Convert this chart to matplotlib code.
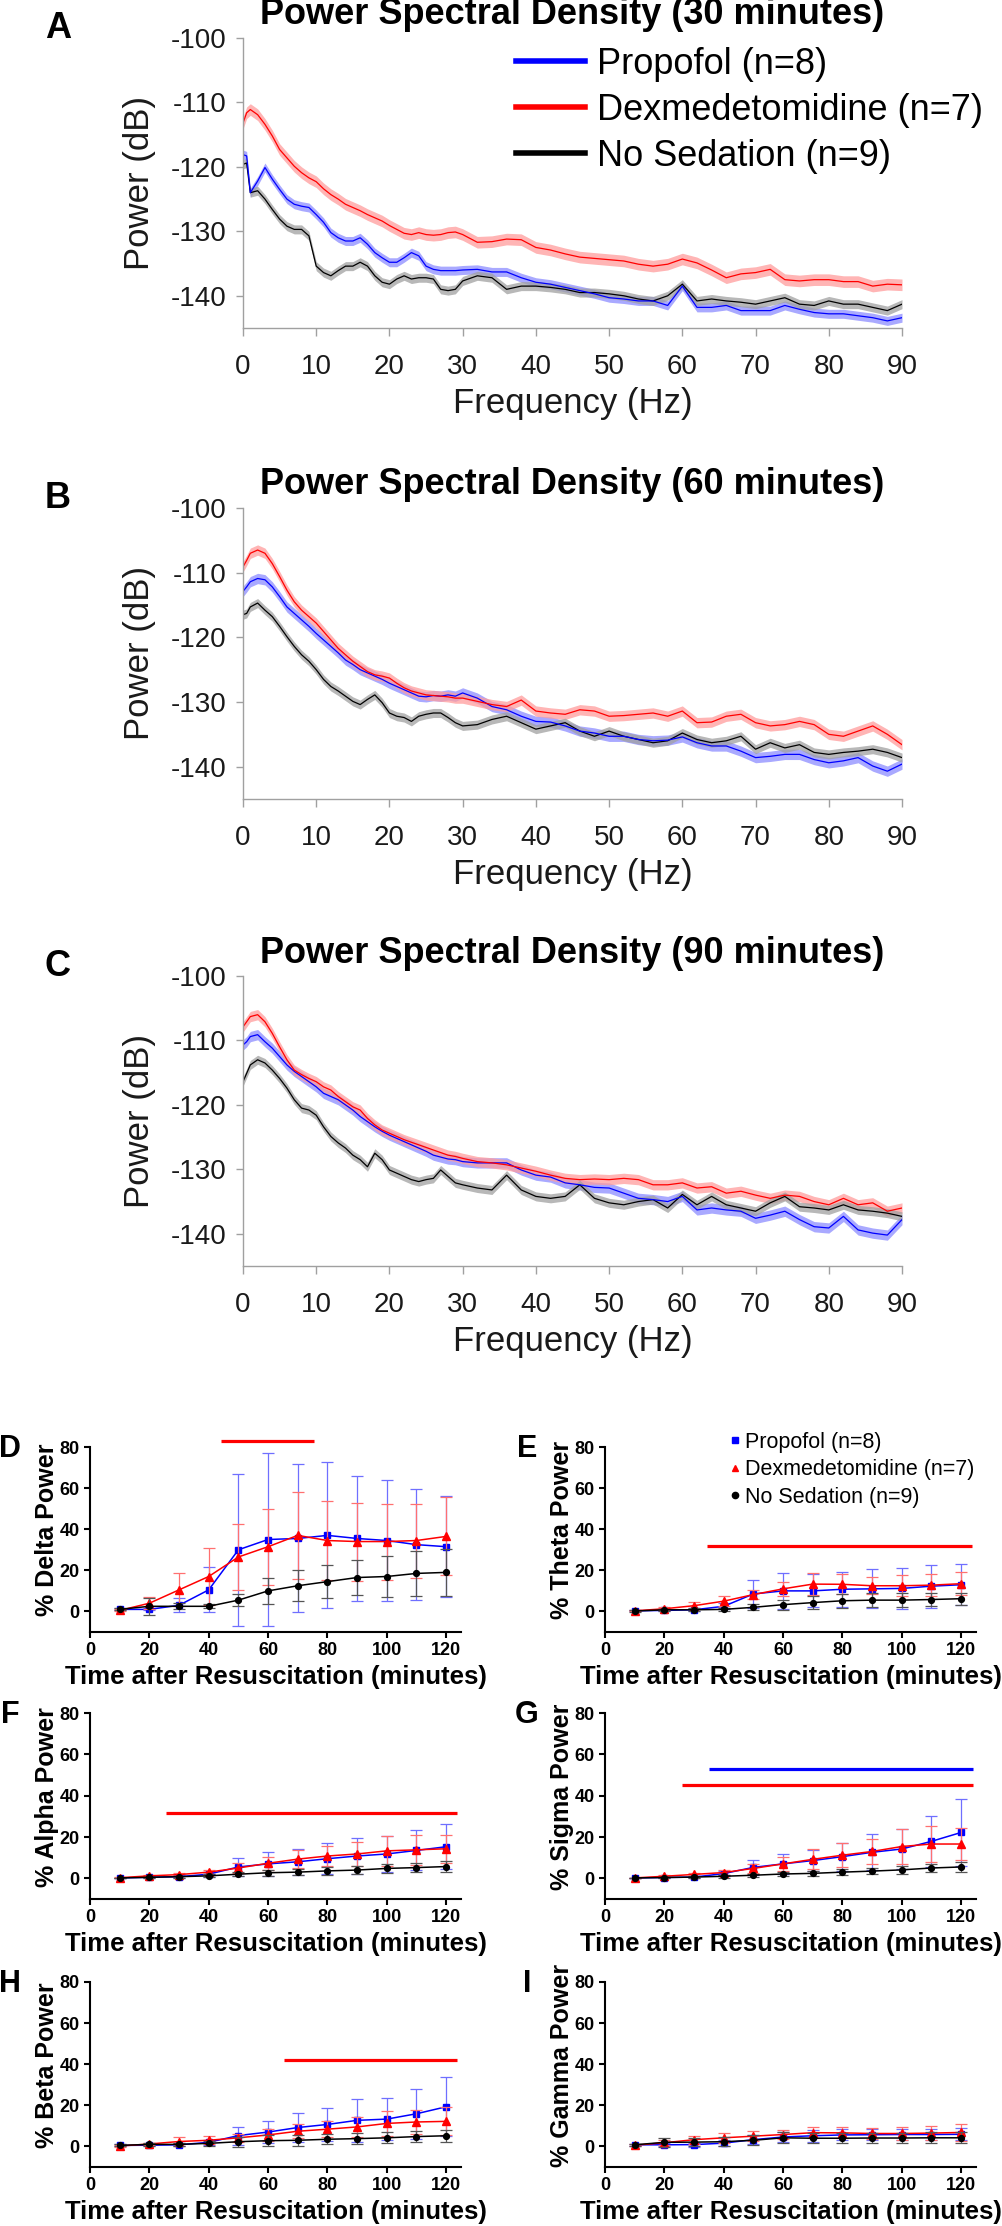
#!/usr/bin/env python3
"""PSD (A-C) + relative band power time course (D-I)."""
import matplotlib

matplotlib.use("Agg")
import matplotlib.pyplot as plt
from matplotlib.lines import Line2D
import numpy as np

plt.rcParams["font.family"] = ["Liberation Sans", "DejaVu Sans"]
plt.rcParams["axes.unicode_minus"] = False

W, H = 1003, 2226  # output pixels (dpi=100)

# ---------------- PSD data (dB) ----------------
FREQ = [0, 0.5, 1, 2, 3, 4, 5, 6, 7, 8, 9, 10, 11, 12, 13, 14, 15, 16, 17, 18,
        19, 20, 21, 22, 23, 24, 25, 26, 27, 28, 29, 30,
        32, 34, 36, 38, 40, 42, 44, 46, 48, 50, 52, 54, 56, 58, 60,
        62, 64, 66, 68, 70, 72, 74, 76, 78, 80, 82, 84, 86, 88, 90]

PSD30_DEX = [-113.2, -111.6, -111.1, -111.9, -113.4, -115.2, -117.3, -118.6, -119.9, -120.9,
             -121.7, -122.3, -123.4, -124.3, -125.0, -125.8, -126.3, -126.8, -127.4, -127.9,
             -128.4, -129.1, -129.7, -130.3, -130.5, -130.2, -130.5, -130.6, -130.5, -130.2,
             -130.1, -130.5,
             -131.7, -131.6, -131.2, -131.3, -132.5, -132.9, -133.5, -134.0, -134.2, -134.4,
             -134.6, -135.1, -135.4, -135.1, -134.3, -134.9, -136.0, -137.2, -136.6, -136.4,
             -135.9, -137.5, -137.7, -137.5, -137.5, -137.8, -137.8, -138.5, -138.2, -138.3]
PSD30_PROP = [-118.1, -118.3, -124.0, -122.2, -120.1, -121.9, -123.5, -125.0, -125.8, -126.1,
              -126.3, -127.4, -128.6, -130.2, -131.0, -131.5, -131.5, -131.0, -132.0, -133.3,
              -134.1, -134.8, -134.8, -134.1, -133.3, -133.8, -135.4, -135.9, -136.1, -136.1,
              -136.1, -136.0,
              -135.9, -136.3, -136.3, -137.2, -137.9, -138.2, -138.7, -139.2, -139.7, -140.3,
              -140.5, -140.8, -140.8, -141.5, -138.5, -141.8, -141.8, -141.5, -142.3, -142.3,
              -142.3, -141.5, -142.1, -142.6, -142.8, -142.8, -143.1, -143.4, -143.9, -143.4]
PSD30_NOSED = [-119.6, -119.4, -124.0, -123.7, -125.0, -126.6, -128.1, -129.2, -129.7, -129.7,
               -130.7, -135.4, -136.4, -136.9, -136.1, -135.4, -135.4, -134.8, -135.4, -136.9,
               -137.9, -138.2, -137.4, -136.9, -137.4, -137.2, -137.2, -137.4, -139.0, -139.2,
               -139.0, -137.7,
               -136.9, -137.2, -139.0, -138.5, -138.5, -138.7, -139.0, -139.5, -139.5, -139.7,
               -140.0, -140.5, -140.8, -140.0, -138.2, -140.8, -140.5, -140.8, -141.0, -141.3,
               -140.8, -140.3, -141.3, -141.5, -140.8, -141.3, -141.3, -141.8, -142.3, -141.3]

PSD60_DEX = [-109.1, -108.1, -107.0, -106.5, -107.0, -108.6, -110.6, -112.7, -114.5, -115.8,
             -116.8, -117.8, -119.1, -120.4, -121.7, -122.7, -123.7, -124.5, -125.3, -125.8,
             -126.0, -126.3, -127.1, -127.8, -128.3, -128.6, -128.9, -129.0, -129.1, -129.2,
             -129.4, -129.4,
             -129.9, -130.4, -130.7, -129.7, -131.4, -131.7, -131.9, -131.2, -131.4, -132.2,
             -132.1, -131.9, -131.7, -132.2, -131.4, -133.2, -133.1, -132.2, -131.9, -133.2,
             -133.7, -133.5, -133.0, -133.5, -135.0, -135.3, -134.5, -133.7, -135.0, -136.6]
PSD60_PROP = [-112.9, -112.2, -111.4, -110.9, -111.1, -112.2, -113.7, -115.3, -116.3, -117.3,
              -118.3, -119.4, -120.4, -121.4, -122.4, -123.5, -124.2, -125.0, -125.5, -126.0,
              -126.5, -127.1, -127.6, -128.1, -128.6, -129.1, -129.2, -129.0, -129.1, -128.9,
              -129.1, -128.6,
              -129.4, -130.7, -131.2, -132.2, -133.0, -133.1, -133.7, -134.5, -134.8, -135.3,
              -135.3, -135.8, -136.0, -135.9, -135.4, -136.3, -136.8, -136.8, -137.6, -138.6,
              -138.4, -138.1, -138.1, -138.9, -139.4, -139.1, -138.6, -139.9, -140.7, -139.6]
PSD60_NOSED = [-116.5, -116.3, -115.3, -114.7, -115.8, -116.8, -118.3, -119.9, -121.4, -122.7,
               -123.7, -125.0, -126.5, -127.6, -128.3, -129.1, -129.9, -130.4, -129.6, -128.9,
               -130.1, -131.7, -132.2, -132.4, -133.0, -132.2, -131.9, -131.7, -131.7, -132.4,
               -133.2, -133.7,
               -133.5, -132.7, -132.2, -133.2, -134.2, -133.7, -133.2, -134.5, -135.3, -134.5,
               -135.3, -135.8, -136.3, -136.0, -134.8, -135.8, -136.3, -136.0, -135.3, -137.3,
               -136.3, -137.1, -136.6, -137.8, -138.1, -137.8, -137.6, -137.3, -137.8, -138.6]

PSD90_DEX = [-107.9, -107.1, -106.3, -106.0, -107.1, -108.9, -111.0, -113.0, -114.6, -115.3,
             -115.9, -116.4, -117.2, -117.7, -118.7, -119.5, -120.3, -120.8, -122.1, -123.1,
             -123.9, -124.4, -124.9, -125.4, -125.8, -126.2, -126.6, -127.0, -127.4, -127.8,
             -128.0, -128.3,
             -128.8, -129.0, -129.3, -129.8, -130.3, -130.9, -131.4, -131.6, -131.5, -131.6,
             -131.4, -131.6, -132.4, -132.4, -132.1, -132.9, -132.7, -133.7, -133.4, -134.0,
             -134.5, -134.0, -134.2, -135.0, -135.5, -134.5, -135.5, -135.2, -136.5, -136.0]
PSD90_PROP = [-110.7, -110.2, -109.4, -109.1, -110.2, -111.2, -112.5, -113.8, -114.8, -115.6,
              -116.4, -117.2, -118.2, -118.7, -119.2, -120.0, -120.8, -121.8, -122.6, -123.4,
              -124.1, -124.7, -125.2, -125.7, -126.2, -126.7, -127.2, -127.8, -128.1, -128.4,
              -128.5, -128.8,
              -129.0, -129.0, -129.0, -130.1, -130.9, -131.2, -132.1, -132.4, -132.8, -132.9,
              -133.7, -134.5, -134.7, -135.0, -134.2, -136.3, -136.0, -136.3, -136.5, -137.6,
              -137.1, -136.5, -137.8, -138.9, -139.1, -137.3, -139.4, -139.9, -140.2, -137.8]
PSD90_NOSED = [-116.4, -115.1, -113.8, -113.0, -113.5, -114.6, -115.9, -117.4, -119.2, -120.5,
               -120.8, -121.6, -123.4, -124.9, -125.9, -126.7, -127.8, -128.5, -129.6, -127.5,
               -128.5, -130.1, -130.6, -131.1, -131.6, -131.9, -131.6, -131.4, -130.1, -131.1,
               -132.1, -132.4,
               -132.9, -133.2, -130.9, -133.2, -134.2, -134.5, -134.2, -132.4, -134.5, -135.2,
               -135.5, -135.0, -134.7, -136.0, -133.9, -135.5, -134.2, -135.5, -136.0, -136.5,
               -135.2, -134.2, -135.8, -136.0, -136.3, -135.5, -136.3, -136.5, -136.8, -137.3]

# SEM half-width of the shaded band (dB): prop, dex, nosed
PSD_SEM = {30: (0.7, 0.9, 0.7), 60: (0.8, 0.8, 0.7), 90: (0.8, 0.8, 0.7)}

# ---------------- relative band power (%), mean +/- SD ----------------
TIME = [10, 20, 30, 40, 50, 60, 70, 80, 90, 100, 110, 120]

DELTA_PROP = [1, 1, 3, 10.5, 30, 35, 35.5, 37, 35.5, 34.5, 32.5, 31.5]
DELTA_PROP_SD = [0.5, 0.5, 3.5, 11, 37, 42, 36, 35.5, 30.5, 29.5, 27, 24.5]
DELTA_DEX = [0.5, 4, 10.5, 17, 26.5, 31.5, 37, 34.5, 34, 34, 34.5, 36.5]
DELTA_DEX_SD = [0.5, 3, 8, 14, 16, 18.5, 21, 19, 19, 18.5, 18, 19]
DELTA_NOSED = [1, 2.5, 2.5, 2.5, 5.5, 10, 12.5, 14.5, 16.5, 17, 18.5, 19]
DELTA_NOSED_SD = [0.5, 4, 1.5, 1, 3, 6.5, 7.5, 8, 8.5, 10, 11, 11.5]

THETA_PROP = [0.3, 0.5, 0.8, 2.5, 8.5, 10, 10, 10.8, 11, 11.2, 12.3, 13]
THETA_PROP_SD = [0.3, 0.5, 0.8, 1.5, 7, 8.7, 8, 8.5, 9.5, 9.8, 10.4, 10]
THETA_DEX = [0.3, 1.3, 2.8, 5, 8.2, 11, 13.3, 13.2, 12.5, 12.5, 12.8, 13.5]
THETA_DEX_SD = [0.3, 0.8, 1.7, 2.3, 2, 3.5, 5.2, 4.8, 4.2, 5.2, 5.2, 5.5]
THETA_NOSED = [0.2, 0.8, 0.8, 1, 2, 3.3, 4.3, 5.2, 5.5, 5.5, 5.8, 6.2]
THETA_NOSED_SD = [0.3, 0.5, 0.7, 0.8, 1.5, 2.5, 3, 3.5, 3.5, 3.5, 3.2, 3]

ALPHA_PROP = [0.2, 0.5, 0.8, 2, 5.5, 7, 8, 9.5, 10.8, 11.8, 13.5, 15.3]
ALPHA_PROP_SD = [0.2, 0.5, 0.7, 1.2, 4.5, 5.7, 6.3, 7.5, 8.5, 8.8, 9.7, 10.9]
ALPHA_DEX = [0.3, 1.2, 1.8, 3, 5, 7.3, 9.3, 10.8, 11.8, 13.3, 13.8, 14.3]
ALPHA_DEX_SD = [0.3, 0.6, 0.8, 1, 2.5, 3.2, 4.2, 5, 5.7, 7.2, 7.2, 6.7]
ALPHA_NOSED = [0.2, 0.5, 0.8, 1.2, 2, 2.7, 3, 3.6, 4, 4.8, 5.2, 5.7]
ALPHA_NOSED_SD = [0.2, 0.3, 0.5, 0.7, 1, 1.4, 1.6, 1.8, 2, 2.2, 2.3, 2.5]

SIGMA_PROP = [0.2, 0.4, 0.6, 2.3, 5.3, 7, 8.6, 10.5, 12.6, 14.2, 17.9, 22.2]
SIGMA_PROP_SD = [0.2, 0.4, 0.6, 1.2, 3.7, 4.7, 5, 6.8, 8.7, 9.8, 12.3, 16]
SIGMA_DEX = [0.2, 1, 1.9, 2.8, 4.8, 7, 9.2, 11.2, 13, 15.4, 16.6, 16.6]
SIGMA_DEX_SD = [0.2, 0.5, 0.8, 1, 2, 3.5, 4.8, 5.8, 6.2, 8.6, 8.6, 7.7]
SIGMA_NOSED = [0.2, 0.4, 0.6, 1, 1.5, 2.1, 2.4, 3, 3.5, 4.1, 5, 5.5]
SIGMA_NOSED_SD = [0.2, 0.3, 0.4, 0.6, 0.8, 1, 1.2, 1.4, 1.6, 1.8, 2, 2.2]

BETA_PROP = [0.5, 0.6, 0.8, 2, 5.3, 7, 9.2, 10.7, 12.7, 13.3, 15.9, 19.3]
BETA_PROP_SD = [0.5, 0.5, 0.8, 1.2, 4.4, 5.2, 7, 8.2, 10.6, 10.4, 12.2, 14.4]
BETA_DEX = [0.2, 1.2, 2.4, 3, 4.2, 5.6, 7.4, 8.4, 9.5, 11.2, 11.9, 12.2]
BETA_DEX_SD = [0.3, 0.6, 2, 1.9, 2, 3, 3.5, 4, 5, 6, 6, 6.8]
BETA_NOSED = [0.5, 1, 1, 1.5, 2.3, 2.8, 3, 3.5, 3.8, 4.2, 4.8, 5.2]
BETA_NOSED_SD = [0.5, 0.6, 0.8, 1.2, 2.5, 2.8, 2.6, 2.5, 2.6, 2.7, 2.8, 3]

GAMMA_PROP = [0.8, 0.8, 0.9, 1.6, 3.3, 4.6, 5.2, 5.6, 5.7, 5.8, 5.8, 5.9]
GAMMA_PROP_SD = [0.5, 0.8, 1, 1.5, 2.2, 2.5, 2.8, 2.7, 2.8, 2.8, 2.9, 3]
GAMMA_DEX = [0.6, 1.8, 3.3, 4.2, 5, 5.8, 6.7, 6.6, 6.3, 6.3, 6.5, 6.8]
GAMMA_DEX_SD = [0.4, 1.2, 2, 2.4, 2.5, 2.3, 2.8, 2.7, 2.8, 3.4, 3.6, 4]
GAMMA_NOSED = [0.8, 2, 2.1, 2.3, 3, 4.2, 4, 4, 4.1, 4.1, 4.2, 4.2]
GAMMA_NOSED_SD = [0.5, 2.2, 2, 2.2, 2.4, 2.6, 2.5, 2.5, 2.5, 2.5, 2.6, 2.6]

# significance bars: (color, x_start, x_end, y)
SIG_DELTA = [("red", 44, 75.5, 83)]
SIG_THETA = [("red", 34.5, 123.5, 32)]
SIG_ALPHA = [("red", 25.5, 123.5, 31.7)]
SIG_SIGMA = [("blue", 35, 124, 52.8), ("red", 26, 124, 45)]
SIG_BETA = [("red", 65.5, 123.5, 42)]
SIG_GAMMA = []

GROUPS = ["Propofol (n=8)", "Dexmedetomidine (n=7)", "No Sedation (n=9)"]
LINE_C = ["#0000FF", "#FF0000", "#000000"]
BAND_C = ["#8C8CFF", "#FF9C9C", "#A0A0A0"]
MARKERS = ["s", "^", "o"]

fig = plt.figure(figsize=(W / 100, H / 100), dpi=100)


def px_axes(left, top, right, bottom):
    return fig.add_axes([left / W, 1 - bottom / H, (right - left) / W, (bottom - top) / H])


def fig_text(x, y, s, **kw):
    fig.text(x / W, 1 - y / H, s, **kw)


# ---------------- PSD panels ----------------
psd_panels = [
    ("A", 30, PSD30_PROP, PSD30_DEX, PSD30_NOSED, 38, 328),
    ("B", 60, PSD60_PROP, PSD60_DEX, PSD60_NOSED, 508, 799),
    ("C", 90, PSD90_PROP, PSD90_DEX, PSD90_NOSED, 976, 1266),
]
freq = np.array(FREQ)
for letter, minutes, prop, dex, nosed, top, bot in psd_panels:
    ax = px_axes(243, top, 902, bot)
    sem = PSD_SEM[minutes]
    for i, ys in enumerate([prop, dex, nosed]):
        ys = np.array(ys)
        ax.fill_between(freq, ys - sem[i], ys + sem[i], color=BAND_C[i], alpha=0.75, lw=0)
    for i, ys in enumerate([nosed, prop, dex]):
        j = [2, 0, 1][i]
        ax.plot(freq, ys, color=LINE_C[j], lw=0.9)
    ax.set_xlim(0, 90)
    ax.set_ylim(-145, -100)
    ax.set_xticks(range(0, 91, 10))
    ax.set_yticks([-140, -130, -120, -110, -100])
    for s in ["top", "right"]:
        ax.spines[s].set_visible(False)
    for s in ["left", "bottom"]:
        ax.spines[s].set_color("#A0A0A0")
        ax.spines[s].set_linewidth(1.0)
    ax.tick_params(axis="x", length=6, width=1, color="#A0A0A0", pad=13,
                   labelsize=20, labelcolor="#1a1a1a")
    ax.tick_params(axis="y", length=5, width=1, color="#A0A0A0", pad=7,
                   labelsize=20, labelcolor="#1a1a1a")
    ax.set_xlabel("Frequency (Hz)", fontsize=25, color="#1a1a1a", va="center")
    ax.xaxis.set_label_coords(0.5, -(403 - 328) / 290)
    ax.set_ylabel("Power (dB)", fontsize=25, color="#1a1a1a", va="center")
    ax.yaxis.set_label_coords(-103 / 659, 0.5)
    ax.text(0.5, 1 + 23 / 290, f"Power Spectral Density ({minutes} minutes)",
            transform=ax.transAxes, ha="center", va="center",
            fontsize=26, fontweight="bold")
    fig_text(58, top - 10, letter, ha="center", va="center", fontsize=26, fontweight="bold")
    if letter == "A":
        handles = [Line2D([], [], color=c, lw=4) for c in LINE_C]
        ax.legend(handles, GROUPS, loc="upper left", frameon=False,
                  bbox_to_anchor=(516 / W, 1 - 47 / H), bbox_transform=fig.transFigure,
                  fontsize=26, handlelength=1.9, handletextpad=0.35,
                  labelspacing=0.3, borderpad=0, borderaxespad=0)

# ---------------- band power panels ----------------
band_panels = [
    ("D", "% Delta Power", DELTA_PROP, DELTA_PROP_SD, DELTA_DEX, DELTA_DEX_SD,
     DELTA_NOSED, DELTA_NOSED_SD, SIG_DELTA, 90, 1447, 1632),
    ("E", "% Theta Power", THETA_PROP, THETA_PROP_SD, THETA_DEX, THETA_DEX_SD,
     THETA_NOSED, THETA_NOSED_SD, SIG_THETA, 605, 1447, 1632),
    ("F", "% Alpha Power", ALPHA_PROP, ALPHA_PROP_SD, ALPHA_DEX, ALPHA_DEX_SD,
     ALPHA_NOSED, ALPHA_NOSED_SD, SIG_ALPHA, 90, 1713, 1899),
    ("G", "% Sigma Power", SIGMA_PROP, SIGMA_PROP_SD, SIGMA_DEX, SIGMA_DEX_SD,
     SIGMA_NOSED, SIGMA_NOSED_SD, SIG_SIGMA, 605, 1713, 1899),
    ("H", "% Beta Power", BETA_PROP, BETA_PROP_SD, BETA_DEX, BETA_DEX_SD,
     BETA_NOSED, BETA_NOSED_SD, SIG_BETA, 90, 1982, 2167),
    ("I", "% Gamma Power", GAMMA_PROP, GAMMA_PROP_SD, GAMMA_DEX, GAMMA_DEX_SD,
     GAMMA_NOSED, GAMMA_NOSED_SD, SIG_GAMMA, 605, 1982, 2167),
]
ERR_C = ["#6F6FFF", "#FF7070", "#555555"]
MSIZE = [5, 5.5, 4.2]

for (letter, ylab, p, psd, d, dsd, n, nsd, sig, left, top, bot) in band_panels:
    ax = px_axes(left, top, left + 371, bot)
    series = [(n, nsd, 2), (p, psd, 0), (d, dsd, 1)]
    for ys, es, k in series:
        ax.errorbar(TIME, ys, yerr=es, color=LINE_C[k], marker=MARKERS[k],
                    markersize=MSIZE[k], lw=1.1, ecolor=ERR_C[k], elinewidth=0.9,
                    capsize=4.5, capthick=0.9, zorder=3 + k)
    for color, x0, x1, y in sig:
        ax.plot([x0, x1], [y, y], color="#FF0000" if color == "red" else "#0000FF",
                lw=2.3, solid_capstyle="butt", clip_on=False)
    ax.set_xlim(0, 125)
    ax.set_ylim(-10, 80)
    ax.set_xticks([0, 20, 40, 60, 80, 100, 120])
    ax.set_yticks([0, 20, 40, 60, 80])
    for s in ["top", "right"]:
        ax.spines[s].set_visible(False)
    for s in ["left", "bottom"]:
        ax.spines[s].set_linewidth(1.5)
    ax.tick_params(length=4, width=1.5, pad=3.5, labelsize=13)
    for lbl in ax.get_xticklabels() + ax.get_yticklabels():
        lbl.set_fontweight("bold")
    ax.set_xlabel("Time after Resuscitation (minutes)", fontsize=18.5,
                  fontweight="bold", va="center")
    ax.xaxis.set_label_coords(0.5, -45 / 185)
    ax.set_ylabel(ylab, fontsize=18, fontweight="bold", va="center")
    ax.yaxis.set_label_coords(-43 / 371, 0.55)
    fig_text(10 if left < 300 else 527, top + 2, letter, ha="center", va="center",
             fontsize=22, fontweight="bold")
    if letter == "E":
        handles = [Line2D([], [], color=LINE_C[k], marker=MARKERS[k], ls="none",
                          markersize=4.5) for k in range(3)]
        ax.legend(handles, GROUPS, loc="upper left", frameon=False,
                  bbox_to_anchor=(730 / W, 1 - 1432 / H), bbox_transform=fig.transFigure,
                  fontsize=15.5, handlelength=0.5, handletextpad=0.2,
                  labelspacing=0.3, borderpad=0, borderaxespad=0)

fig.savefig("out.png", dpi=100)
print("[plot] wrote out.png")
